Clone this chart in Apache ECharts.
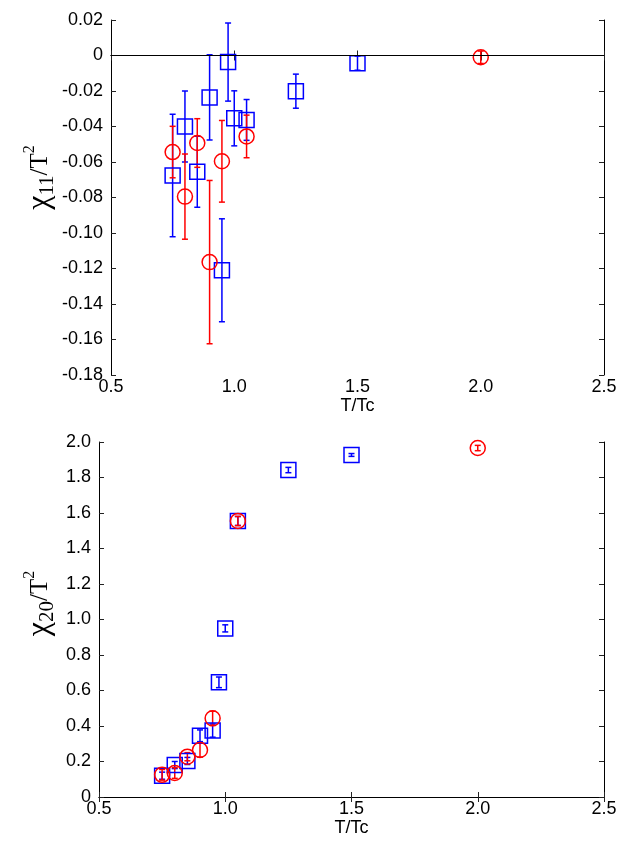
<!DOCTYPE html>
<html>
<head>
<meta charset="utf-8">
<script src="https://cdn.jsdelivr.net/npm/echarts@6/dist/echarts.min.js"></script>
<style>
  html, body { margin: 0; padding: 0; background: #fff; }
  #main { width: 635px; height: 841px; }
</style>
</head>
<body>
<div id="main"></div>
<script>
// 上图 chi11/T^2, 蓝色方块
const t11Blue = [0.75, 0.80, 0.85, 0.90, 0.95, 0.975, 1.0, 1.05, 1.25, 1.5]
const c11Blue = [-0.0676, -0.040, -0.0655, -0.0236, -0.121, -0.0037, -0.0354, -0.0363, -0.0201, -0.0043]
const e11Blue = [0.0345, 0.020, 0.020, 0.024, 0.029, 0.022, 0.0155, 0.0115, 0.0096, 0.004]
// 上图 红色圆圈
const t11Red = [0.75, 0.80, 0.85, 0.90, 0.95, 1.05, 2.0]
const c11Red = [-0.0544, -0.0795, -0.0493, -0.1164, -0.0596, -0.0456, -0.001]
const e11Red = [0.0145, 0.024, 0.0137, 0.046, 0.023, 0.012, 0.0035]
// 下图 chi20/T^2, 蓝色方块
const t20Blue = [0.75, 0.80, 0.85, 0.90, 0.95, 0.975, 1.0, 1.05, 1.25, 1.5]
const c20Blue = [0.120, 0.180, 0.203, 0.345, 0.374, 0.646, 0.950, 1.555, 1.842, 1.927]
const e20Blue = [0.02, 0.02, 0.02, 0.033, 0.037, 0.03, 0.02, 0.025, 0.015, 0.008]
// 下图 红色圆圈
const t20Red = [0.75, 0.80, 0.85, 0.90, 0.95, 1.05, 2.0]
const c20Red = [0.125, 0.135, 0.227, 0.265, 0.443, 1.555, 1.966]
const e20Red = [0.03, 0.03, 0.023, 0.04, 0.04, 0.026, 0.015]
// 坐标轴刻度
const xTicks = [0.5, 2.5, 0.5]        // min, max, interval
const yTicksTop = [-0.18, 0.02, 0.02]
const yTicksBottom = [0, 2.0, 0.2]

const BLUE = '#0000ff'
const RED = '#ff0000'
const FONT = "'Liberation Sans', Arial, sans-serif"
const SERIF = "'Liberation Serif', 'Times New Roman', serif"

const pts = (xs, ys) => xs.map((x, i) => [x, ys[i]])
const bars = (xs, ys, es) => xs.map((x, i) => [x, ys[i] - es[i], ys[i] + es[i]])

// 误差棒
function errRender(params, api) {
	const x = api.value(0)
	const lo = api.coord([x, api.value(1)])
	const hi = api.coord([x, api.value(2)])
	const w = 3
	const style = { stroke: api.visual('color'), lineWidth: 1.5 }
	return {
		type: 'group',
		children: [
			{ type: 'line', shape: { x1: lo[0], y1: lo[1], x2: hi[0], y2: hi[1] }, style },
			{ type: 'line', shape: { x1: lo[0] - w, y1: lo[1], x2: lo[0] + w, y2: lo[1] }, style },
			{ type: 'line', shape: { x1: hi[0] - w, y1: hi[1], x2: hi[0] + w, y2: hi[1] }, style }
		]
	}
}

const axisLine = { show: true, lineStyle: { color: '#000', width: 1 } }
const tick = { show: true, inside: true, length: 5, lineStyle: { color: '#222' } }
const labelStyle = { color: '#000', fontSize: 18, fontFamily: FONT }

function xAx(grid, pos, [min, max, interval], withLabel) {
	return {
		type: 'value', gridIndex: grid, position: pos, min, max, interval,
		axisLine, axisTick: tick, splitLine: { show: false },
		axisLabel: withLabel ? { ...labelStyle, margin: 3, formatter: v => v.toFixed(1) } : { show: false },
		name: withLabel ? 'T/Tc' : '', nameLocation: 'middle', nameGap: 19,
		nameTextStyle: { color: '#000', fontSize: 18, fontFamily: FONT }
	}
}

function yAx(grid, pos, [min, max, interval], digits, sub, withLabel, gap, lift) {
	return {
		type: 'value', gridIndex: grid, position: pos, min, max, interval,
		axisLine, axisTick: tick, splitLine: { show: false },
		axisLabel: withLabel ? {
			...labelStyle, margin: 8,
			formatter: v => Math.abs(v) < 1e-9 ? '0' : v.toFixed(digits)
		} : { show: false },
		name: withLabel ? `{g|χ}{s|${sub}}{n|/T}{p|2}` : '',
		nameLocation: 'middle', nameGap: gap, nameRotate: 90, nameMoveOverlap: false,
		nameTextStyle: {
			color: '#000',
			padding: [0, 0, 0, lift || 0],
			rich: {
				g: { fontSize: 32, fontFamily: SERIF, lineHeight: 36, verticalAlign: 'middle' },
				s: { fontSize: 21, fontFamily: SERIF, lineHeight: 36, verticalAlign: 'bottom' },
				n: { fontSize: 25, fontFamily: SERIF, lineHeight: 36, verticalAlign: 'middle' },
				p: { fontSize: 16, fontFamily: SERIF, lineHeight: 36, verticalAlign: 'top' }
			}
		}
	}
}

function markers(name, data, xi, color, symbol) {
	return {
		name, type: 'scatter', xAxisIndex: xi, yAxisIndex: xi, data, symbol, symbolSize: 15,
		itemStyle: { color: 'rgba(0,0,0,0)', borderColor: color, borderWidth: 1.5, opacity: 1 },
		z: 3
	}
}

function errs(name, data, xi, color) {
	return {
		name, type: 'custom', xAxisIndex: xi, yAxisIndex: xi, data,
		encode: { x: 0, y: [1, 2] }, renderItem: errRender,
		itemStyle: { color }, z: 2
	}
}

const chart = echarts.init(document.getElementById('main'))
chart.setOption({
	animation: false,
	backgroundColor: '#fff',
	grid: [
		{ left: 111, right: 31, top: 20, height: 355 },
		{ left: 99, right: 31, top: 442, height: 355 }
	],
	xAxis: [
		xAx(0, 'bottom', xTicks, true),
		xAx(0, 'top', xTicks, false),
		xAx(1, 'bottom', xTicks, true),
		xAx(1, 'top', xTicks, false)
	],
	yAxis: [
		yAx(0, 'left', yTicksTop, 2, '11', true, 53, 40),
		yAx(0, 'right', yTicksTop, 2, '11', false, 0),
		yAx(1, 'left', yTicksBottom, 1, '20', true, 41, 32),
		yAx(1, 'right', yTicksBottom, 1, '20', false, 0)
	],
	series: [
		{
			type: 'line', xAxisIndex: 0, yAxisIndex: 0, data: [], silent: true,
			markLine: {
				symbol: 'none', silent: true, label: { show: false },
				lineStyle: { color: '#000', width: 1.2, type: 'solid' },
				data: [{ yAxis: 0 }]
			}
		},
		errs('b11e', bars(t11Blue, c11Blue, e11Blue), 0, BLUE),
		markers('b11', pts(t11Blue, c11Blue), 0, BLUE, 'rect'),
		errs('r11e', bars(t11Red, c11Red, e11Red), 0, RED),
		markers('r11', pts(t11Red, c11Red), 0, RED, 'circle'),
		errs('b20e', bars(t20Blue, c20Blue, e20Blue), 2, BLUE),
		markers('b20', pts(t20Blue, c20Blue), 2, BLUE, 'rect'),
		errs('r20e', bars(t20Red, c20Red, e20Red), 2, RED),
		markers('r20', pts(t20Red, c20Red), 2, RED, 'circle')
	]
})
</script>
</body>
</html>
